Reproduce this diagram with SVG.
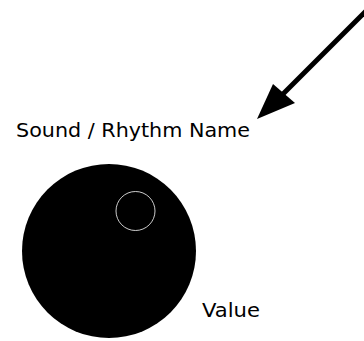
<svg xmlns="http://www.w3.org/2000/svg" width="364" height="341" viewBox="0 0 364 341">
<style>
.lbl{font-family:"DejaVu Sans","Open Sans",sans-serif;font-size:19px;fill:#000}
</style>
<rect width="364" height="341" fill="#fff"/>
<g id="connectors">
<line x1="368" y1="9" x2="282" y2="95" stroke="#000" stroke-width="5"/>
<polygon points="257,119 273,84 295,103" fill="#000"/>
</g>
<g id="name-label">
<text class="lbl" x="16" y="137" textLength="234" lengthAdjust="spacingAndGlyphs">Sound / Rhythm Name</text>
</g>
<g id="knob">
<circle cx="109" cy="251" r="87" fill="#000"/>
<circle cx="135.5" cy="211" r="19.5" fill="none" stroke="#fff" stroke-width="0.8"/>
</g>
<g id="value-label">
<text class="lbl" x="202" y="317" textLength="58" lengthAdjust="spacingAndGlyphs">Value</text>
</g>
</svg>
